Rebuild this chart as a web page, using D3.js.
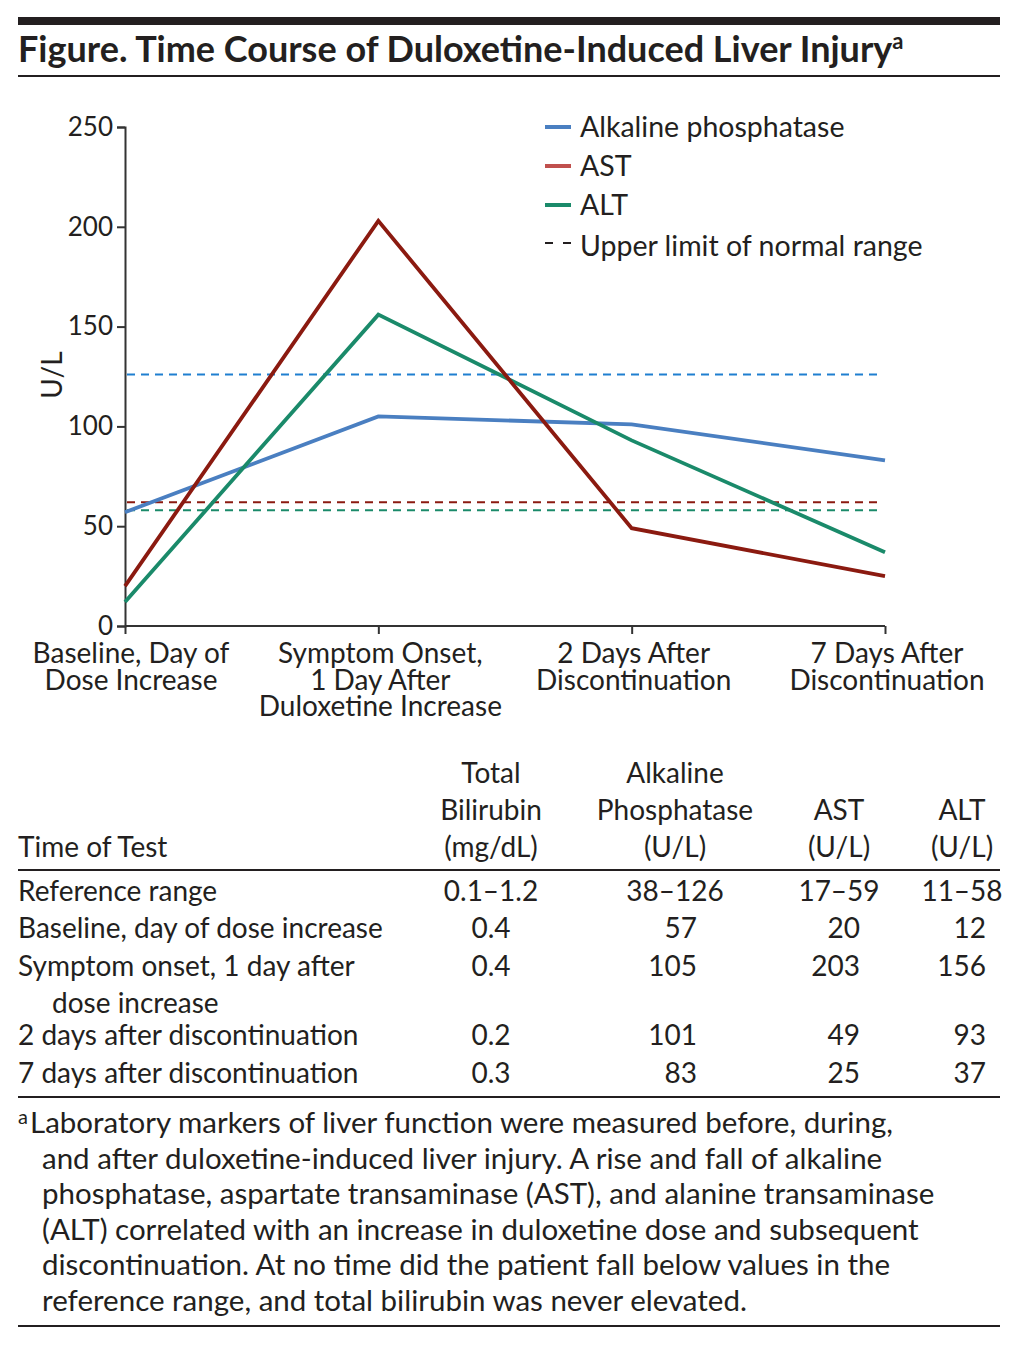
<!DOCTYPE html>
<html>
<head>
<meta charset="utf-8">
<script src="https://cdn.jsdelivr.net/npm/d3@7"></script>
<style>
  body { margin: 0; background: #fff; }
  svg text { font-family: Lato, "Noto Sans", sans-serif; fill: #231f20; }
</style>
</head>
<body>
<div id="chart"></div>
<script>
// values
const timepoints = [
    ["Baseline, Day of", "Dose Increase"],
    ["Symptom Onset,", "1 Day After", "Duloxetine Increase"],
    ["2 Days After", "Discontinuation"],
    ["7 Days After", "Discontinuation"]
];
const alp = [57, 105, 101, 83];
const ast = [20, 203, 49, 25];
const alt = [12, 156, 93, 37];
const seriesNames = ["Alkaline phosphatase", "AST", "ALT"];
const upperLimits = [126, 62, 58];   // dashed lines as drawn
const yTicks = [0, 50, 100, 150, 200, 250];

const tableHeader = [
    ["Total", "Bilirubin", "(mg/dL)"],
    ["Alkaline", "Phosphatase", "(U/L)"],
    ["AST", "(U/L)"],
    ["ALT", "(U/L)"]
];
const tableRows = [
    ["Reference range", "0.1\u20131.2", "38\u2013126", "17\u201359", "11\u201358"],
    ["Baseline, day of dose increase", "0.4", "57", "20", "12"],
    ["Symptom onset, 1 day after|dose increase", "0.4", "105", "203", "156"],
    ["2 days after discontinuation", "0.2", "101", "49", "93"],
    ["7 days after discontinuation", "0.3", "83", "25", "37"]
];
const footnote = [
    "Laboratory markers of liver function were measured before, during,",
    "and after duloxetine-induced liver injury. A rise and fall of alkaline",
    "phosphatase, aspartate transaminase (AST), and alanine transaminase",
    "(ALT) correlated with an increase in duloxetine dose and subsequent",
    "discontinuation. At no time did the patient fall below values in the",
    "reference range, and total bilirubin was never elevated."
];

const lineColors = ["#4a7fc1", "#8b1a10", "#1a8a6a"];
const legendColors = ["#4a7fc1", "#c0504d", "#1a8a6a"];
const dashColors = ["#1f7fd0", "#8b1a10", "#1a8a6a"];
const textFill = "#231f20";

const W = 1015, H = 1345;
const svg = d3.select("#chart")
    .append("svg")
    .attr("width", W)
    .attr("height", H);

// Title block
svg.append("rect").attr("x", 18).attr("y", 17).attr("width", 982).attr("height", 8).attr("fill", textFill);
const title = svg.append("text")
    .attr("x", 18)
    .attr("y", 62)
    .style("font-size", "36px")
    .style("font-weight", "bold");
title.append("tspan").text("Figure. Time Course of Duloxetine-Induced Liver Injury");
title.append("tspan").attr("dy", -13).style("font-size", "22px").text("a");
svg.append("rect").attr("x", 18).attr("y", 75).attr("width", 982).attr("height", 2).attr("fill", textFill);

// Plot
const x = d3.scalePoint()
    .domain(d3.range(timepoints.length))
    .range([125, 885]);

const y = d3.scaleLinear()
    .domain([0, 250])
    .range([626, 127]);

const yAxis = svg.append("g")
    .attr("transform", "translate(125,0)")
    .call(d3.axisLeft(y).tickValues(yTicks).tickSize(8).tickPadding(4));
yAxis.select(".domain").attr("stroke", "#333").attr("stroke-width", 2);
yAxis.selectAll(".tick line").attr("stroke", "#333").attr("stroke-width", 2);
yAxis.selectAll(".tick text")
    .style("font-size", "26px")
    .attr("fill", textFill)
    .style("font-family", "Lato, sans-serif");

const xAxis = svg.append("g")
    .attr("transform", "translate(0,626)")
    .call(d3.axisBottom(x).tickSize(8).tickFormat(""));
xAxis.select(".domain").attr("d", "M125,0H885").attr("stroke", "#333").attr("stroke-width", 2);
xAxis.selectAll(".tick line").attr("stroke", "#333").attr("stroke-width", 2);

// x category labels
timepoints.forEach((lines, i) => {
    const t = svg.append("text")
        .attr("text-anchor", "middle")
        .style("font-size", "28px");
    lines.forEach((ln, j) => {
        t.append("tspan")
            .attr("x", x(i) + (i === 0 ? 6 : 2))
            .attr("y", 663 + j * 26.5)
            .text(ln);
    });
});

svg.append("text")
    .attr("transform", "rotate(-90)")
    .attr("x", -375)
    .attr("y", 62)
    .attr("text-anchor", "middle")
    .style("font-size", "28px")
    .text("U/L");

// Upper limit dashed lines
svg.append("g")
    .selectAll("line")
    .data(upperLimits)
    .enter()
    .append("line")
    .attr("x1", 127)
    .attr("x2", 882)
    .attr("y1", d => y(d))
    .attr("y2", d => y(d))
    .attr("stroke", (d, i) => dashColors[i])
    .attr("stroke-width", 2)
    .attr("stroke-dasharray", "8,6");

// Series lines
const line = d3.line()
    .x((d, i) => x(i))
    .y(d => y(d));

svg.append("g")
    .selectAll("path")
    .data([alp, alt, ast])
    .enter()
    .append("path")
    .attr("d", line)
    .attr("fill", "none")
    .attr("stroke", (d, i) => [lineColors[0], lineColors[2], lineColors[1]][i])
    .attr("stroke-width", 3.8)
    .attr("stroke-linejoin", "miter");

// Legend
const legendY = [127, 166, 205, 246];
seriesNames.forEach((name, i) => {
    svg.append("line")
        .attr("x1", 545).attr("x2", 571)
        .attr("y1", legendY[i]).attr("y2", legendY[i])
        .attr("stroke", legendColors[i])
        .attr("stroke-width", 4);
    svg.append("text")
        .attr("x", 580)
        .attr("y", legendY[i] + 10)
        .style("font-size", "28.5px")
        .text(name);
});
svg.append("line")
    .attr("x1", 545).attr("x2", 571)
    .attr("y1", legendY[3] - 3).attr("y2", legendY[3] - 3)
    .attr("stroke", textFill)
    .attr("stroke-width", 2)
    .attr("stroke-dasharray", "8,10");
svg.append("text")
    .attr("x", 580)
    .attr("y", legendY[3] + 10)
    .style("font-size", "28.5px")
    .text("Upper limit of normal range");

// Table
const colCenter = [491, 675, 839, 962];
const colRight = [510, 697, 860, 986];
const tableFont = "28px";

tableHeader.forEach((lines, c) => {
    const start = 857 - (lines.length - 1) * 37;
    lines.forEach((ln, j) => {
        svg.append("text")
            .attr("x", colCenter[c])
            .attr("y", start + j * 37)
            .attr("text-anchor", "middle")
            .style("font-size", tableFont)
            .text(ln);
    });
});
svg.append("text").attr("x", 18).attr("y", 857).style("font-size", tableFont).text("Time of Test");
svg.append("rect").attr("x", 18).attr("y", 869).attr("width", 982).attr("height", 2).attr("fill", textFill);

const rowY = [901, 938, 976, 1045, 1083];
tableRows.forEach((row, r) => {
    const label = row[0].split("|");
    label.forEach((ln, j) => {
        svg.append("text")
            .attr("x", j === 0 ? 18 : 52)
            .attr("y", rowY[r] + j * 37)
            .style("font-size", tableFont)
            .text(ln);
    });
    row.slice(1).forEach((v, c) => {
        const centered = r === 0 || c === 0;
        svg.append("text")
            .attr("x", centered ? colCenter[c] : colRight[c])
            .attr("y", rowY[r])
            .attr("text-anchor", centered ? "middle" : "end")
            .style("font-size", tableFont)
            .text(v);
    });
});
svg.append("rect").attr("x", 18).attr("y", 1096).attr("width", 982).attr("height", 2).attr("fill", textFill);

// Footnote
const fn = svg.append("g");
fn.append("text").attr("x", 18).attr("y", 1124).style("font-size", "20px").text("a");
footnote.forEach((ln, i) => {
    fn.append("text")
        .attr("x", i === 0 ? 30 : 42)
        .attr("y", 1133 + i * 35.5)
        .style("font-size", "29.5px")
        .text(ln);
});
svg.append("rect").attr("x", 18).attr("y", 1325).attr("width", 982).attr("height", 2).attr("fill", textFill);
</script>
</body>
</html>
